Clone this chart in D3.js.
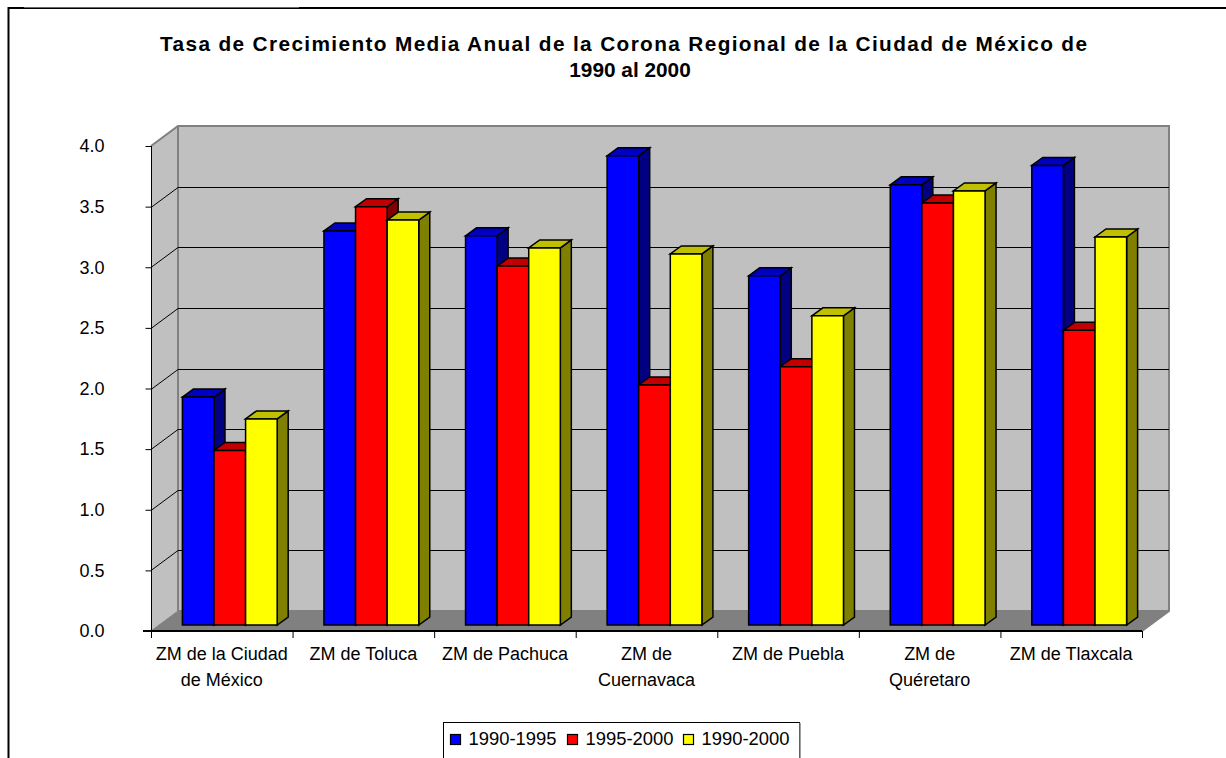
<!DOCTYPE html>
<html><head><meta charset="utf-8">
<script src="https://cdnjs.cloudflare.com/ajax/libs/d3/7.8.5/d3.min.js"></script>
<style>html,body{margin:0;padding:0;background:#fff;overflow:hidden}svg{display:block}text{font-family:"Liberation Sans",Arial,sans-serif;fill:#000}</style>
</head><body><svg id="c" width="1226" height="758"></svg>
<script>
const categories=[["ZM de la Ciudad","de México"],["ZM de Toluca"],["ZM de Pachuca"],["ZM de","Cuernavaca"],["ZM de Puebla"],["ZM de","Quéretaro"],["ZM de Tlaxcala"]];
const seriesNames=["1990-1995","1995-2000","1990-2000"];
const v1=[1.88,3.25,3.21,3.87,2.88,3.63,3.79];
const v2=[1.44,3.45,2.96,1.98,2.13,3.48,2.43];
const v3=[1.70,3.34,3.11,3.06,2.55,3.58,3.20];
const seriesValues=[v1,v2,v3];
const yTicks=[0,0.5,1,1.5,2,2.5,3,3.5,4];
const faces=[["#0000ff","#0000c0","#000080"],["#ff0000","#c00000","#800000"],["#ffff00","#c0c000","#808000"]];
const titleLines=["Tasa de Crecimiento Media Anual de la Corona Regional de la Ciudad de México de","1990 al 2000"];

const svg=d3.select("#c");
const L=151,R=1142,DX=27,DY=-20;
const y=d3.scaleLinear().domain([0,4]).range([631,146]);
const x0=d3.scaleBand().domain(d3.range(7)).range([L,R]);
const x1=d3.scaleBand().domain(d3.range(3)).range([0,x0.bandwidth()]).paddingInner(0).paddingOuter(0.74);
const poly=(g,pts,fill,stroke,sw)=>g.append("polygon").attr("points",pts.map(p=>p.join(",")).join(" ")).attr("fill",fill).attr("stroke",stroke||"none").attr("stroke-width",sw||0);

// frame
svg.append("path").attr("d","M8.5 758V8H1226").attr("fill","none").attr("stroke","#000").attr("stroke-width",2);
svg.append("rect").attr("x",24).attr("y",6).attr("width",275).attr("height",1.4).attr("fill","#fff");

// title
svg.append("g").selectAll("text").data(titleLines).join("text")
 .attr("x",(d,i)=>i==0?623.5:630).attr("y",(d,i)=>51+i*26).attr("text-anchor","middle")
 .attr("font-size",20.8).attr("font-weight","bold").attr("textLength",(d,i)=>i==0?927:null).text(d=>d);

// walls
const T=y(4),B=y(0);
poly(svg,[[L,T],[L+DX,T+DY],[L+DX,B+DY],[L,B]],"#c0c0c0");
poly(svg,[[L+DX,T+DY],[R+DX,T+DY],[R+DX,B+DY],[L+DX,B+DY]],"#c0c0c0");
poly(svg,[[L,B],[L+DX,B+DY],[R+DX,B+DY],[R,B]],"#808080");
svg.append("path").attr("d",`M${L} ${T}L${L+DX} ${T+DY}H${R+DX}V${B+DY}L${R} ${B}`).attr("fill","none").attr("stroke","#808080").attr("stroke-width",2);
svg.append("path").attr("d",`M${L+DX} ${T+DY}V${B+DY}`).attr("fill","none").attr("stroke","#808080").attr("stroke-width",2);
svg.append("path").attr("d",`M${L+DX} ${B+DY}H${R+DX}`).attr("fill","none").attr("stroke","#808080").attr("stroke-width",2);

// gridlines
const grid=svg.append("g").attr("stroke","#000").attr("stroke-width",1).attr("fill","none");
yTicks.filter(t=>t>0&&t<4).forEach(t=>{
 const py=Math.round(y(t))+.5;
 grid.append("path").attr("d",`M${L} ${py}L${L+DX} ${py+DY}H${R+DX}`);
});
grid.append("path").attr("d",`M${L} ${T}L${L+DX} ${T+DY}`).attr("stroke","#808080");
grid.append("path").attr("d",`M${L} ${B}L${L+DX} ${B+DY}`).attr("stroke","#808080");

// bars
const OX=8,OY=-6,BX=11,BY=-8;
const bars=svg.append("g").attr("stroke-linejoin","miter");
categories.forEach((c,ci)=>{
 seriesValues.forEach((vals,si)=>{
  const xa=x0(ci)+x1(si)+OX, w=x1.bandwidth(), xb=xa+w;
  const yb=y(0)+OY, yt=y(vals[ci])+OY;
  const g=bars.append("g");
  poly(g,[[xb,yt],[xb+BX,yt+BY],[xb+BX,yb+BY],[xb,yb]],faces[si][2],"#000",1.5);
  poly(g,[[xa,yt],[xa+BX,yt+BY],[xb+BX,yt+BY],[xb,yt]],faces[si][1],"#000",1.5);
  poly(g,[[xa,yt],[xb,yt],[xb,yb],[xa,yb]],faces[si][0],"#000",1.5);
 });
});

// axes
const axY=d3.axisLeft(y).tickValues(yTicks).tickFormat(d3.format(".1f")).tickSize(6).tickPadding(41);
const gy=svg.append("g").attr("transform",`translate(${L}.5,0)`).call(axY);
gy.selectAll("text").attr("font-size",18).attr("font-family","'Liberation Sans',Arial,sans-serif").attr("dy","0.32em");
gy.selectAll("line").attr("stroke","#000");
gy.select(".domain").attr("d",`M0 ${T}V${B}`).attr("stroke","#000").attr("stroke-width",1);

const axX=d3.axisBottom(d3.scaleLinear().domain([0,7]).range([L,R])).tickValues(d3.range(8)).tickFormat("").tickSize(7);
const gx=svg.append("g").attr("transform",`translate(0,${B})`).call(axX);
gx.selectAll("line").attr("stroke","#000").attr("stroke-width",1);
gx.select(".domain").attr("d",`M${L-8} 0H${R}`).attr("stroke","#000").attr("stroke-width",2);

const lab=svg.append("g");
categories.forEach((c,i)=>{
 lab.selectAll(null).data(c).join("text").attr("x",x0(i)+x0.bandwidth()/2).attr("y",(d,j)=>660+j*26)
  .attr("text-anchor","middle").attr("font-size",18).text(d=>d);
});

// legend
const lg=svg.append("g");
lg.append("rect").attr("x",443.5).attr("y",722.5).attr("width",356).attr("height",50).attr("fill","#fff").attr("stroke","#000").attr("stroke-width",1);
lg.append("path").attr("d","M800 723V758").attr("stroke","#808080").attr("stroke-width",1.5);
const lx=[450,567,683];
seriesNames.forEach((s,i)=>{
 lg.append("rect").attr("x",lx[i]+.5).attr("y",734.5).attr("width",10).attr("height",10).attr("fill",faces[i][0]).attr("stroke","#000").attr("stroke-width",1.2);
 lg.append("text").attr("x",lx[i]+18.5).attr("y",745).attr("font-size",18.4).text(s);
});
</script></body></html>
